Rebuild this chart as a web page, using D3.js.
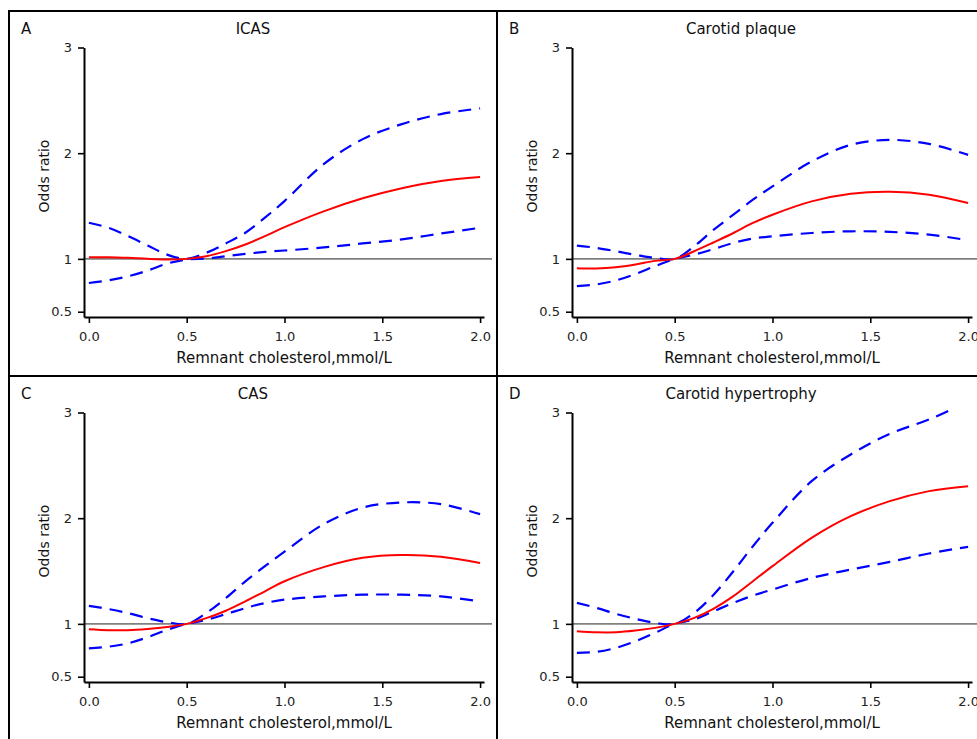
<!DOCTYPE html>
<html>
<head>
<meta charset="utf-8">
<script src="https://cdn.jsdelivr.net/npm/d3@7"></script>
<style>
  body { margin: 0; background: #fff; }
  svg { display: block; font-family: "DejaVu Sans", sans-serif; }
</style>
</head>
<body>
<svg id="chart" width="977" height="739"></svg>
<script>
// remnant cholesterol (mmol/L) where the curves were read
const rcValues = [0, 0.1, 0.2, 0.3, 0.4, 0.5, 0.6, 0.7, 0.8, 0.9, 1.0, 1.2, 1.4, 1.6, 1.8, 2.0];

// A - ICAS
const icasOR    = [1.016, 1.016, 1.01, 1.0, 0.994, 1.0, 1.025, 1.073, 1.136, 1.215, 1.30, 1.45, 1.573, 1.668, 1.737, 1.775];
const icasUpper = [1.342, 1.294, 1.215, 1.127, 1.04, 1.0, 1.057, 1.146, 1.247, 1.39, 1.547, 1.896, 2.133, 2.275, 2.37, 2.424];
const icasLower = [0.772, 0.797, 0.835, 0.889, 0.956, 0.994, 1.003, 1.025, 1.047, 1.066, 1.079, 1.108, 1.146, 1.184, 1.24, 1.294];

// B - Carotid plaque
const plaqueOR    = [0.912, 0.909, 0.921, 0.947, 0.981, 1.0, 1.072, 1.157, 1.245, 1.34, 1.418, 1.544, 1.616, 1.635, 1.607, 1.528];
const plaqueUpper = [1.126, 1.104, 1.072, 1.038, 1.009, 1.0, 1.12, 1.277, 1.418, 1.56, 1.686, 1.921, 2.079, 2.126, 2.088, 1.984];
const plaqueLower = [0.742, 0.758, 0.796, 0.858, 0.931, 1.0, 1.041, 1.094, 1.151, 1.192, 1.214, 1.245, 1.261, 1.255, 1.23, 1.176];

// C - CAS
const casOR    = [0.949, 0.94, 0.94, 0.952, 0.971, 1.0, 1.054, 1.124, 1.213, 1.308, 1.403, 1.537, 1.625, 1.651, 1.635, 1.575];
const casUpper = [1.171, 1.14, 1.102, 1.054, 1.016, 1.0, 1.102, 1.244, 1.403, 1.546, 1.683, 1.943, 2.1, 2.149, 2.133, 2.038];
const casLower = [0.768, 0.784, 0.816, 0.873, 0.943, 1.0, 1.038, 1.092, 1.149, 1.197, 1.229, 1.26, 1.276, 1.276, 1.26, 1.213];

// D - Carotid hypertrophy
const hypOR    = [0.931, 0.921, 0.921, 0.937, 0.962, 1.0, 1.057, 1.145, 1.262, 1.404, 1.546, 1.814, 2.019, 2.161, 2.256, 2.303];
const hypUpper = [1.199, 1.151, 1.095, 1.047, 1.009, 1.0, 1.104, 1.278, 1.498, 1.735, 1.956, 2.35, 2.603, 2.798, 2.934, 3.10];
const hypLower = [0.726, 0.735, 0.773, 0.836, 0.915, 1.0, 1.041, 1.12, 1.199, 1.268, 1.325, 1.435, 1.514, 1.587, 1.666, 1.729];

const xTicks = [0, 0.5, 1.0, 1.5, 2.0];
const yTicks = [0.5, 1, 2, 3];

const panels = [
  { letter: "A", title: "ICAS", or: icasOR, upper: icasUpper, lower: icasLower },
  { letter: "B", title: "Carotid plaque", or: plaqueOR, upper: plaqueUpper, lower: plaqueLower },
  { letter: "C", title: "CAS", or: casOR, upper: casUpper, lower: casLower },
  { letter: "D", title: "Carotid hypertrophy", or: hypOR, upper: hypUpper, lower: hypLower }
];

const svg = d3.select("#chart");
const panelW = 488, panelH = 365, left0 = 9, top0 = 11;

// scales are the same in every panel
const x = d3.scaleLinear().domain([-0.025, 2.02]).range([75, 475]);
const y = d3.scaleLinear().domain([0.45, 3]).range([306, 36.5]);

panels.forEach((p, i) => {
  const col = i % 2, row = Math.floor(i / 2);
  const g = svg.append("g")
    .attr("transform", `translate(${left0 + col * panelW},${top0 + row * panelH})`);

  g.append("rect")
    .attr("width", panelW).attr("height", panelH)
    .attr("fill", "none").attr("stroke", "#000").attr("stroke-width", 2);

  g.append("text").attr("x", 12).attr("y", 23)
    .attr("font-size", "15px").attr("fill", "#111").text(p.letter);
  g.append("text").attr("x", panelW / 2).attr("y", 23)
    .attr("text-anchor", "middle").attr("font-size", "15px").attr("fill", "#111").text(p.title);

  const clipId = "clip" + i;
  g.append("clipPath").attr("id", clipId).append("rect")
    .attr("x", 75).attr("y", y(3.03)).attr("width", 400).attr("height", 306 - y(3.03));

  // reference line at OR = 1
  g.append("line")
    .attr("x1", 75).attr("x2", 483).attr("y1", y(1)).attr("y2", y(1))
    .attr("stroke", "#808080").attr("stroke-width", 1.6);

  const line = d3.line()
    .x((d, k) => x(rcValues[k]))
    .y(d => y(d))
    .curve(d3.curveCatmullRom.alpha(0.5));

  const plot = g.append("g").attr("clip-path", `url(#${clipId})`);
  [p.upper, p.lower].forEach(s => {
    plot.append("path").attr("d", line(s))
      .attr("fill", "none").attr("stroke", "#0000ff")
      .attr("stroke-width", 2.2).attr("stroke-dasharray", "13,8");
  });
  plot.append("path").attr("d", line(p.or))
    .attr("fill", "none").attr("stroke", "#ff0000").attr("stroke-width", 2);

  const xAxis = g.append("g").attr("transform", "translate(0,306)")
    .call(d3.axisBottom(x).tickValues(xTicks).tickFormat(d3.format(".1f"))
      .tickSize(6).tickSizeOuter(0).tickPadding(9));
  const yAxis = g.append("g").attr("transform", "translate(75,0)")
    .call(d3.axisLeft(y).tickValues(yTicks).tickFormat(d => d)
      .tickSize(6).tickSizeOuter(0).tickPadding(6));

  [xAxis, yAxis].forEach(a => {
    a.select(".domain").attr("stroke-width", 2);
    a.selectAll(".tick line").attr("stroke-width", 1.6);
    a.selectAll("text").attr("font-size", "13px").attr("fill", "#222")
      .attr("font-family", "'DejaVu Sans', sans-serif");
  });

  g.append("text").attr("x", 275).attr("y", 352)
    .attr("text-anchor", "middle").attr("font-size", "15px").attr("fill", "#111")
    .text("Remnant cholesterol,mmol/L");

  g.append("text")
    .attr("transform", "translate(40,165) rotate(-90)")
    .attr("text-anchor", "middle").attr("font-size", "14px").attr("fill", "#111")
    .text("Odds ratio");
});
</script>
</body>
</html>
